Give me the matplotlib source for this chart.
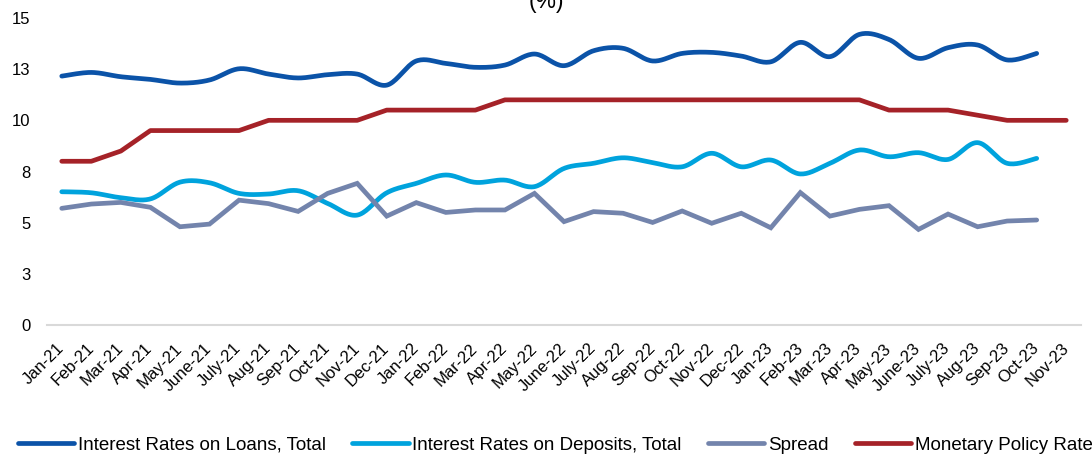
import numpy as np
import matplotlib

matplotlib.use("Agg")
import matplotlib.pyplot as plt

plt.rcParams["font.family"] = ["Liberation Sans", "DejaVu Sans"]

# month labels (x axis)
months = ["Jan-21", "Feb-21", "Mar-21", "Apr-21", "May-21", "June-21", "July-21", "Aug-21",
          "Sep-21", "Oct-21", "Nov-21", "Dec-21", "Jan-22", "Feb-22", "Mar-22", "Apr-22",
          "May-22", "June-22", "July-22", "Aug-22", "Sep-22", "Oct-22", "Nov-22", "Dec-22",
          "Jan-23", "Feb-23", "Mar-23", "Apr-23", "May-23", "June-23", "July-23", "Aug-23",
          "Sep-23", "Oct-23", "Nov-23"]

# series values (%), loans / deposits / spread end at Oct-23
loans = [12.16, 12.34, 12.13, 12.0, 11.82, 11.97, 12.52, 12.26, 12.07, 12.23, 12.26, 11.72,
         12.9, 12.78, 12.59, 12.7, 13.24, 12.67, 13.4, 13.52, 12.9, 13.27, 13.32, 13.14,
         12.86, 13.81, 13.11, 14.2, 13.95, 13.03, 13.55, 13.68, 12.95, 13.27]
deposits = [6.51, 6.46, 6.22, 6.16, 6.98, 6.95, 6.43, 6.4, 6.56, 5.94, 5.37, 6.46,
            6.92, 7.33, 6.97, 7.08, 6.76, 7.65, 7.9, 8.17, 7.93, 7.73, 8.39, 7.73,
            8.06, 7.38, 7.9, 8.55, 8.22, 8.42, 8.09, 8.91, 7.9, 8.14]
spread = [5.7, 5.91, 5.99, 5.75, 4.8, 4.93, 6.1, 5.93, 5.55, 6.43, 6.92, 5.32,
          5.98, 5.5, 5.62, 5.62, 6.43, 5.05, 5.54, 5.46, 5.01, 5.57, 4.97, 5.46,
          4.75, 6.47, 5.32, 5.65, 5.83, 4.67, 5.42, 4.8, 5.08, 5.13]
policy = [8.0, 8.0, 8.5, 9.5, 9.5, 9.5, 9.5, 10.0, 10.0, 10.0, 10.0, 10.5,
          10.5, 10.5, 10.5, 11.0, 11.0, 11.0, 11.0, 11.0, 11.0, 11.0, 11.0, 11.0,
          11.0, 11.0, 11.0, 11.0, 10.5, 10.5, 10.5, 10.25, 10.0, 10.0, 10.0]

yticks = [0, 2.5, 5, 7.5, 10, 12.5, 15]
ytick_labels = ["0", "3", "5", "8", "10", "13", "15"]

C_LOANS = "#0B53A8"
C_DEP = "#00A3DD"
C_SPREAD = "#7384AC"
C_POLICY = "#A52228"


def smooth(y, n=20):
    """Catmull-Rom curve through the points (like Excel's smoothed line)"""
    y = np.asarray(y, dtype=float)
    x = np.arange(len(y), dtype=float)
    px = np.concatenate([[x[0]], x, [x[-1]]])
    py = np.concatenate([[y[0]], y, [y[-1]]])
    xs, ys = [], []
    t = np.linspace(0, 1, n, endpoint=False)
    for i in range(1, len(px) - 2):
        for arr, out in ((px, xs), (py, ys)):
            p0, p1, p2, p3 = arr[i - 1], arr[i], arr[i + 1], arr[i + 2]
            out.append(0.5 * (2 * p1 + (-p0 + p2) * t
                              + (2 * p0 - 5 * p1 + 4 * p2 - p3) * t ** 2
                              + (-p0 + 3 * p1 - 3 * p2 + p3) * t ** 3))
    xs.append([x[-1]])
    ys.append([y[-1]])
    return np.concatenate(xs), np.concatenate(ys)


fig = plt.figure(figsize=(10.92, 4.55), dpi=100)
ax = fig.add_axes([47 / 1092, 130 / 455, 1034 / 1092, 307 / 455])

lw = 3.4
xl, yl = smooth(loans)
ax.plot(xl, yl, color=C_LOANS, lw=lw, solid_capstyle="round", label="Interest Rates on Loans, Total")
xd, yd = smooth(deposits)
ax.plot(xd, yd, color=C_DEP, lw=lw, solid_capstyle="round", label="Interest Rates on Deposits, Total")
ax.plot(np.arange(len(spread)), spread, color=C_SPREAD, lw=lw, solid_capstyle="round",
        solid_joinstyle="miter", label="Spread")
ax.plot(np.arange(len(policy)), policy, color=C_POLICY, lw=lw, solid_capstyle="round",
        label="Monetary Policy Rate")

ax.set_xlim(-0.5, len(months) - 0.5)
ax.set_ylim(0, 15)
ax.set_yticks(yticks)
ax.set_yticklabels(ytick_labels, fontsize=12)
ax.set_xticks(np.arange(len(months)))
ax.set_xticklabels(months, fontsize=12, rotation=45, ha="right", va="center",
                   rotation_mode="anchor")
ax.tick_params(axis="both", length=0)
ax.tick_params(axis="y", pad=12)
ax.tick_params(axis="x", pad=15)

for s in ["top", "right", "left"]:
    ax.spines[s].set_visible(False)
ax.spines["bottom"].set_color("#D9D9D9")
ax.spines["bottom"].set_linewidth(1.5)

fig.text(546 / 1092, 0.982, "(%)", fontsize=16.5, ha="center", va="baseline")

fig.legend(loc="center left", bbox_to_anchor=(18 / 1092, 10 / 455), ncol=4,
           frameon=False, fontsize=13.5, handlelength=3.0, handletextpad=0.2,
           columnspacing=1.4, borderpad=0, borderaxespad=0)

fig.savefig("out.png", dpi=100)
